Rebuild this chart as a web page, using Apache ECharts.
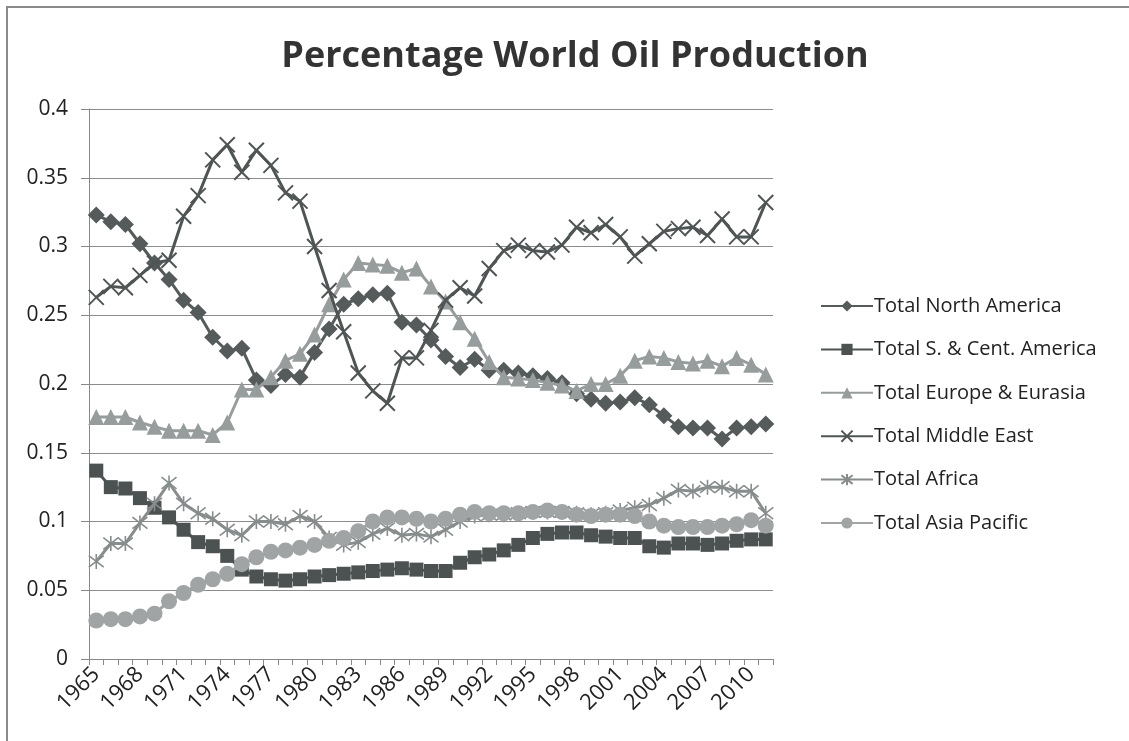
<!DOCTYPE html>
<html>
<head>
<meta charset="utf-8">
<script src="https://cdn.jsdelivr.net/npm/echarts@6/dist/echarts.min.js"></script>
<style>
  html, body { margin: 0; padding: 0; background: #fff; }
  #chart_plot_01 { width: 1129px; height: 741px; }
</style>
</head>
<body>
<div id="chart_plot_01"></div>
<script>
// 年份
let years = ['1965','1966','1967','1968','1969','1970','1971','1972','1973','1974',
  '1975','1976','1977','1978','1979','1980','1981','1982','1983','1984',
  '1985','1986','1987','1988','1989','1990','1991','1992','1993','1994',
  '1995','1996','1997','1998','1999','2000','2001','2002','2003','2004',
  '2005','2006','2007','2008','2009','2010','2011'];

let northAmerica = [0.323,0.318,0.316,0.302,0.288,0.276,0.261,0.252,0.234,0.224,
  0.226,0.203,0.199,0.207,0.205,0.223,0.240,0.258,0.262,0.265,
  0.266,0.245,0.243,0.232,0.220,0.212,0.218,0.210,0.210,0.208,
  0.206,0.204,0.201,0.193,0.189,0.186,0.187,0.190,0.185,0.177,
  0.169,0.168,0.168,0.160,0.168,0.169,0.171];

let southCentAmerica = [0.137,0.125,0.124,0.117,0.110,0.103,0.094,0.085,0.082,0.075,
  0.065,0.060,0.058,0.057,0.058,0.060,0.061,0.062,0.063,0.064,
  0.065,0.066,0.065,0.064,0.064,0.070,0.074,0.076,0.079,0.083,
  0.088,0.091,0.092,0.092,0.090,0.089,0.088,0.088,0.082,0.081,
  0.084,0.084,0.083,0.084,0.086,0.087,0.087];

let europeEurasia = [0.176,0.176,0.176,0.172,0.169,0.166,0.166,0.166,0.163,0.172,
  0.196,0.196,0.205,0.217,0.222,0.236,0.258,0.276,0.288,0.287,
  0.286,0.281,0.284,0.271,0.260,0.245,0.233,0.216,0.205,0.204,
  0.203,0.201,0.199,0.195,0.200,0.200,0.206,0.217,0.220,0.219,
  0.216,0.215,0.217,0.213,0.219,0.214,0.207];

let middleEast = [0.263,0.271,0.270,0.279,0.288,0.290,0.322,0.337,0.363,0.374,
  0.354,0.370,0.359,0.339,0.333,0.300,0.268,0.238,0.208,0.195,
  0.186,0.219,0.219,0.239,0.261,0.270,0.264,0.284,0.297,0.301,
  0.297,0.296,0.301,0.314,0.310,0.316,0.307,0.293,0.302,0.311,
  0.313,0.314,0.308,0.320,0.307,0.307,0.332];

let africa = [0.071,0.084,0.084,0.099,0.113,0.128,0.113,0.106,0.102,0.094,
  0.090,0.100,0.100,0.098,0.104,0.100,0.088,0.083,0.085,0.091,
  0.095,0.090,0.091,0.089,0.094,0.100,0.104,0.105,0.105,0.106,
  0.107,0.107,0.107,0.106,0.105,0.106,0.108,0.110,0.112,0.117,
  0.123,0.122,0.125,0.125,0.122,0.122,0.106];

let asiaPacific = [0.028,0.029,0.029,0.031,0.033,0.042,0.048,0.054,0.058,0.062,
  0.069,0.074,0.078,0.079,0.081,0.083,0.086,0.088,0.093,0.100,
  0.103,0.103,0.102,0.100,0.102,0.105,0.107,0.106,0.106,0.106,
  0.107,0.108,0.107,0.105,0.104,0.105,0.105,0.104,0.100,0.097,
  0.096,0.096,0.096,0.097,0.098,0.101,0.097];

let seriesNames = ['Total North America', 'Total S. & Cent. America', 'Total Europe & Eurasia',
  'Total Middle East', 'Total Africa', 'Total Asia Pacific'];

let yTicks = [0, 0.05, 0.1, 0.15, 0.2, 0.25, 0.3, 0.35, 0.4];

// 标记样式
let xMark = 'path://M0,0L10,10M10,0L0,10';
let starMark = 'path://M0,0L10,10M10,0L0,10M5,-1.5L5,11.5';

let styles = [
  {color: '#555b5b', symbol: 'diamond', size: 17, border: 0},
  {color: '#4c5252', symbol: 'rect', size: 14, border: 0},
  {color: '#979c9c', symbol: 'triangle', size: 16, border: 0},
  {color: '#4f5454', symbol: xMark, size: 15, border: 2},
  {color: '#878c8c', symbol: starMark, size: 15, border: 1.6},
  {color: '#a0a4a4', symbol: 'circle', size: 16, border: 0}
];

let allData = [northAmerica, southCentAmerica, europeEurasia, middleEast, africa, asiaPacific];

function makeSeries() {
  let serie = [];
  for (let i = 0; i < seriesNames.length; i++) {
    let s = styles[i];
    serie.push({
      name: seriesNames[i],
      type: 'line',
      data: allData[i],
      symbol: s.symbol,
      symbolSize: s.size,
      showAllSymbol: true,
      lineStyle: {color: s.color, width: 3},
      itemStyle: {color: s.color, borderColor: s.color, borderWidth: s.border},
      emphasis: {disabled: true},
      z: 2 + i
    });
  }
  return serie;
}

let myChart = echarts.init(document.getElementById('chart_plot_01'), null, {renderer: 'canvas'});

let option = {
  backgroundColor: '#fff',
  animation: false,
  textStyle: {fontFamily: 'Open Sans'},
  title: {
    text: 'Percentage World Oil Production',
    left: 570,
    top: 34,
    textAlign: 'center',
    textStyle: {fontFamily: 'Open Sans', fontWeight: 'bold', fontSize: 36, color: '#333'}
  },
  graphic: [{
    type: 'rect',
    shape: {x: 7, y: 7, width: 1140, height: 760},
    style: {fill: 'none', stroke: '#8a8a8a', lineWidth: 2},
    silent: true
  }],
  legend: {
    orient: 'vertical',
    left: 815,
    top: 291,
    itemWidth: 52,
    itemHeight: 14,
    itemGap: 23.4,
    data: seriesNames,
    textStyle: {fontFamily: 'Open Sans', fontSize: 20, lineHeight: 20, color: '#222', padding: [0, 0, 0, -4]}
  },
  grid: {left: 89, right: 356, top: 109, bottom: 82},
  xAxis: {
    type: 'category',
    data: years,
    boundaryGap: true,
    axisLine: {lineStyle: {color: '#888', width: 1}},
    axisTick: {show: true, interval: 0, length: 6, lineStyle: {color: '#888'}},
    axisLabel: {
      interval: 2,
      rotate: 45,
      margin: 12,
      fontSize: 22,
      color: '#222',
      fontFamily: 'Open Sans'
    },
    splitLine: {show: false}
  },
  yAxis: {
    type: 'value',
    min: yTicks[0],
    max: yTicks[yTicks.length - 1],
    interval: 0.05,
    axisLine: {show: true, lineStyle: {color: '#888', width: 1}},
    axisTick: {show: true, length: 8, inside: false, lineStyle: {color: '#888'}},
    axisLabel: {margin: 21, fontSize: 21, color: '#222', fontFamily: 'Open Sans'},
    splitLine: {show: true, lineStyle: {color: '#8c8c8c', width: 1}}
  },
  series: makeSeries()
};

myChart.setOption(option);
</script>
</body>
</html>
